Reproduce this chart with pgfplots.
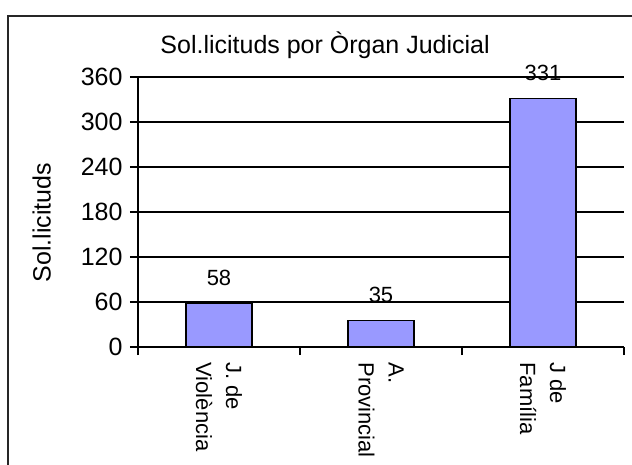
\documentclass[border=0pt]{standalone}
\usepackage{pgfplots}
\pgfplotsset{compat=1.18}
\usepackage{fontspec}
\setmainfont{Liberation Sans}
\definecolor{barblue}{HTML}{9999FF}
\begin{document}
\begin{tikzpicture}
\useasboundingbox (0,0) rectangle (632pt,464pt);
% chart frame (right and bottom edges lie outside the picture)
\draw[line width=1.8pt,black!85] (8pt,-10pt) -- (8pt,448pt) -- (650pt,448pt);
\begin{axis}[
  at={(138pt,117pt)},anchor=south west,
  scale only axis,width=486pt,height=270pt,
  xmin=-0.5,xmax=2.5,ymin=0,ymax=360,
  axis x line=bottom,axis y line=left,axis line style={-,line width=1.2pt},
  ytick={0,60,...,360},
  xtick={0,1,2},
  xticklabels={{J. de\\Violència},{A.\\Provincial},{J de\\Família}},
  minor xtick={-0.5,0.5,1.5,2.5},
  tick align=outside,
  major tick length=8pt,minor tick length=8pt,
  major x tick style={draw=none},
  tick style={line width=1.2pt,black},
  ymajorgrids,grid style={line width=1.2pt,black},
  /pgf/number format/assume math mode=true,
  yticklabel style={xshift=-4pt,font=\fontsize{25}{30}\selectfont},
  xticklabel style={rotate=-90,anchor=west,align=left,xshift=4pt,font=\fontsize{22}{30}\selectfont},
  ylabel={Sol.licituds},
  ylabel style={at={(axis description cs:-0.198,0.46)},anchor=center,rotate=0,font=\fontsize{25}{30}\selectfont},
  title={Sol.licituds por Òrgan Judicial},
  title style={at={(axis description cs:0.385,1.063)},anchor=base,yshift=0pt,font=\fontsize{25}{30}\selectfont},
  ybar,bar width=66pt,
  nodes near coords,
  every node near coord/.append style={font=\fontsize{22}{27}\selectfont,inner sep=0pt,anchor=south,yshift=17pt},
]
\addplot[fill=barblue,draw=black,line width=1.2pt] coordinates {(0,58) (1,35) (2,331)};
\end{axis}
\end{tikzpicture}
\end{document}
